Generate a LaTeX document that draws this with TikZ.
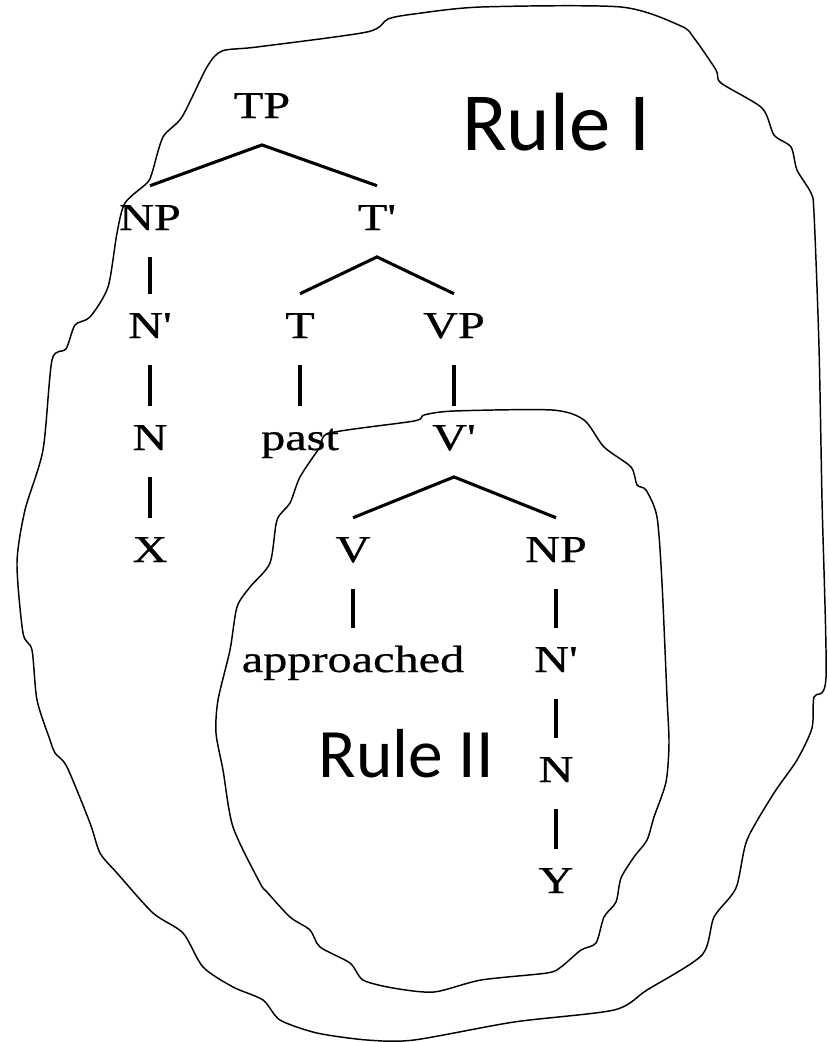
\documentclass[tikz,border=0pt]{standalone}
\usepackage{fontspec}
\newfontfamily\treefont[FakeStretch=1.27,FakeBold=0.6]{Liberation Serif}
\newfontfamily\rulefont{Carlito}

\begin{document}
\begin{tikzpicture}[x=0.75pt,y=-0.75pt,
  cat/.style={anchor=base,inner sep=0pt,text height=33pt,text depth=20pt,
    font={\treefont\fontsize{28.5}{30}\selectfont}},
  branch/.style={line width=2.3pt},
  blob/.style={line width=1.1pt,line join=round}]
\fill[white] (0,0) rectangle (828,1042);
\useasboundingbox (0,0) rectangle (828,1042);

% the tree
\node[cat] (tp) at (262,118) {TP};
\node[cat] (np) at (150,230) {NP};
\node[cat] (tbar) at (377,230) {T'};
\node[cat] (nbar) at (150,338) {N'};
\node[cat] (t) at (300,338) {T};
\node[cat] (vp) at (454,338) {VP};
\node[cat] (n) at (150,450) {N};
\node[cat] (past) at (300,450) {past};
\node[cat] (vbar) at (454,450) {V'};
\node[cat] (x) at (150,562) {X};
\node[cat] (v) at (353,562) {V};
\node[cat] (npb) at (556,562) {NP};
\node[cat] (appr) at (353,672) {approached};
\node[cat] (nbarb) at (556,672) {N'};
\node[cat] (nb) at (556,782) {N};
\node[cat] (y) at (556,893) {Y};

\draw[branch] (np.north)--(tp.south)--(tbar.north);
\draw[branch] (t.north)--(tbar.south)--(vp.north);
\draw[branch] (v.north)--(vbar.south)--(npb.north);
\draw[branch] (np.south)--(nbar.north);
\draw[branch] (nbar.south)--(n.north);
\draw[branch] (n.south)--(x.north);
\draw[branch] (t.south)--(past.north);
\draw[branch] (vp.south)--(vbar.north);
\draw[branch] (v.south)--(appr.north);
\draw[branch] (npb.south)--(nbarb.north);
\draw[branch] (nbarb.south)--(nb.north);
\draw[branch] (nb.south)--(y.north);

% rule I
\draw[blob] plot[smooth cycle,tension=0.45] coordinates {
  (222,51) (257,47) (367,32) (388,19) (414,14) (481,7) (621,7) (681,26)
  (694,38) (716,70) (721,83) (762,108) (774,135) (791,147) (797,170)
  (811,193) (814,213) (819,347) (822,500) (826,677) (814,697) (812,728)
  (797,760) (774,793) (747,840) (736,888) (714,917) (702,955) (647,990)
  (614,1010) (514,1022) (414,1040) (367,1040) (317,1033) (280,1020)
  (263,1000) (233,987) (203,967) (183,933) (153,913) (117,873) (100,853)
  (90,823) (67,767) (55,753) (50,740) (37,700) (32,650) (23,633) (17,563)
  (25,510) (43,450) (52,360) (66,349) (75,325) (90,317) (108,287)
  (117,233) (125,203) (147,183) (152,173) (163,137) (182,117) (207,67)};
\node[anchor=base,inner sep=0pt,font={\rulefont\fontsize{62}{64}\selectfont}]
  (rulei) at (556,150) {Rule I};

% rule II
\draw[blob] plot[smooth cycle,tension=0.45] coordinates {
  (330,433) (414,421) (424,415) (454,411) (552,410) (584,420) (604,447)
  (631,467) (637,485) (646,490) (657,517) (662,583) (667,697) (669,743)
  (666,782) (654,817) (647,840) (634,857) (621,878) (616,902) (604,917)
  (596,943) (581,950) (561,967) (547,973) (481,980) (434,992) (393,988)
  (363,980) (350,963) (320,947) (310,930) (290,917) (267,892) (260,883)
  (233,827) (223,770) (216,733) (218,700) (230,650) (237,607) (250,587)
  (270,563) (277,520) (290,503) (300,477) (320,447)};
\node[anchor=base,inner sep=0pt,font={\rulefont\fontsize{52}{54}\selectfont}]
  (ruleii) at (406,777) {Rule II};
\end{tikzpicture}
\end{document}
